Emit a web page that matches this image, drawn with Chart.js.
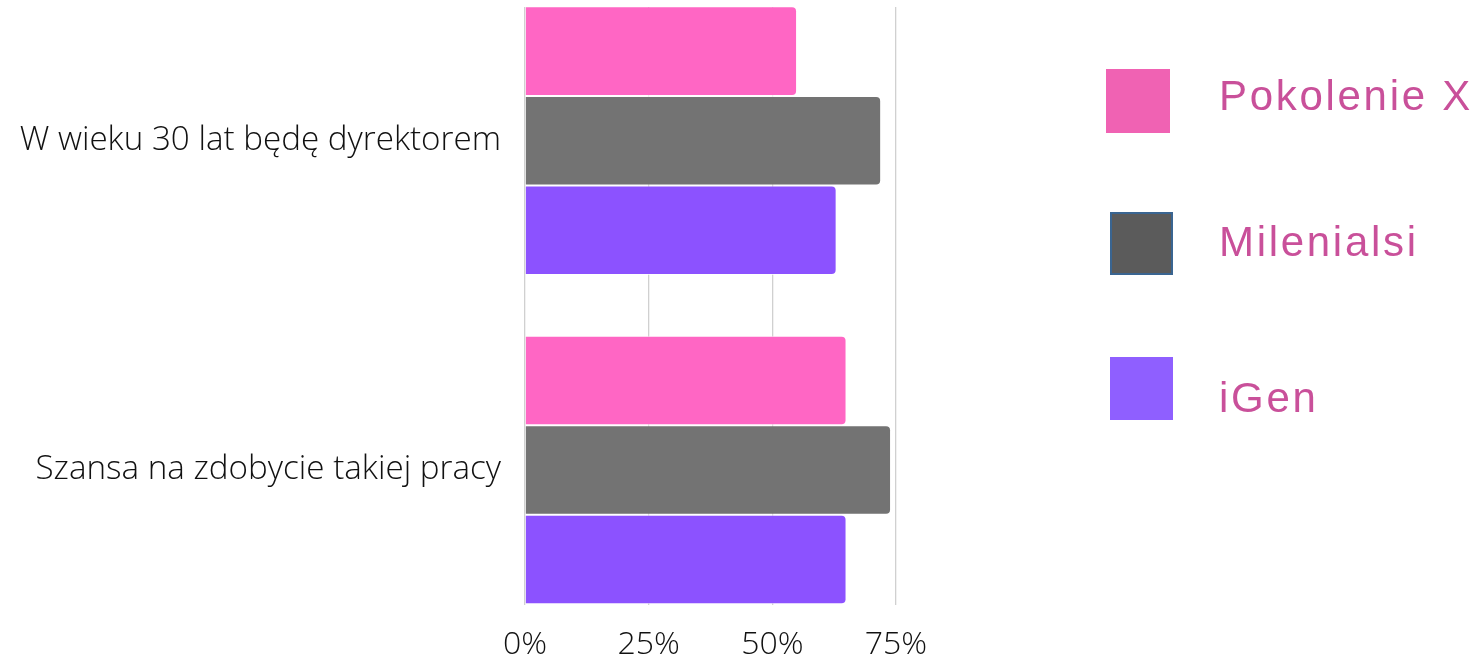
<!DOCTYPE html>
<html>
<head>
<meta charset="utf-8">
<script src="https://cdn.jsdelivr.net/npm/chart.js@4/dist/chart.umd.min.js"></script>
<style>
  html, body { margin: 0; padding: 0; background: #ffffff; }
  #wrap { position: relative; width: 1483px; height: 661px; overflow: hidden; }
  #c { position: absolute; left: 0; top: 0; }
  .sw { position: absolute; box-sizing: border-box; }
  .lt { position: absolute; font-family: "Liberation Sans", Arial, sans-serif; font-size: 42px; line-height: 42px;
        letter-spacing: 2.7px; color: #C9509A; white-space: nowrap; }
</style>
</head>
<body>
<div id="wrap">
  <canvas id="c" width="1483" height="661"></canvas>
  <div class="sw" style="left:1106px;top:69px;width:64px;height:64px;background:#F062B3;"></div>
  <div class="lt" style="left:1219px;top:75px;">Pokolenie X</div>
  <div class="sw" style="left:1110px;top:212px;width:63px;height:63px;background:#5B5B5B;border:2px solid #3A6591;"></div>
  <div class="lt" style="left:1219px;top:221px;">Milenialsi</div>
  <div class="sw" style="left:1110px;top:357px;width:63px;height:63px;background:#8F5FFF;"></div>
  <div class="lt" style="left:1219px;top:377px;">iGen</div>
</div>
<script>
const categories = ["W wieku 30 lat będę dyrektorem", "Szansa na zdobycie takiej pracy"];
const seriesNames = ["Pokolenie X", "Milenialsi", "iGen"];
const pokolenieX = [55, 65];
const milenialsi = [72, 74];
const iGen = [63, 65];
const xTicks = [0, 25, 50, 75];
const colors = ["#FF66C4", "#737373", "#8C52FF"];

const toPoints = arr => arr.map((v, i) => ({ x: v, y: i }));
const seriesValues = [pokolenieX, milenialsi, iGen];

new Chart(document.getElementById('c'), {
  type: 'bar',
  data: {
    datasets: seriesNames.map((name, k) => ({
      label: name,
      data: toPoints(seriesValues[k]),
      backgroundColor: colors[k],
      borderColor: 'rgba(255,255,255,0.7)',
      borderWidth: 1,
      borderRadius: 5,
      borderSkipped: 'start',
      categoryPercentage: 0.816,
      barPercentage: 1
    }))
  },
  options: {
    indexAxis: 'y',
    responsive: false,
    animation: false,
    devicePixelRatio: 1,
    layout: { padding: { top: 7, right: 587, bottom: 0, left: 0 } },
    plugins: { legend: { display: false }, tooltip: { enabled: false } },
    scales: {
      y: {
        type: 'linear',
        reverse: true,
        offset: false,
        min: -0.406,
        max: 1.41,
        afterBuildTicks: s => { s.ticks = categories.map((c, i) => ({ value: i })); },
        afterFit: s => { s.width = 525; s.paddingTop = 0; s.paddingBottom = 0; },
        grid: { display: false, drawTicks: false, offset: false },
        border: { display: false },
        ticks: {
          padding: 24,
          color: '#111111',
          font: { family: '"Open Sans"', size: 33.2, weight: '300' },
          callback: v => categories[v] ?? ''
        }
      },
      x: {
        min: 0,
        max: 75,
        afterBuildTicks: s => { s.ticks = xTicks.map(v => ({ value: v })); },
        afterFit: s => { s.height = 56; },
        grid: { color: '#d0d0d0', lineWidth: 1.3, drawTicks: false },
        border: { display: false },
        ticks: {
          padding: 21,
          color: '#111111',
          font: { family: '"Open Sans"', size: 32, weight: '300' },
          callback: v => v + '%'
        }
      }
    }
  }
});
</script>
</body>
</html>
